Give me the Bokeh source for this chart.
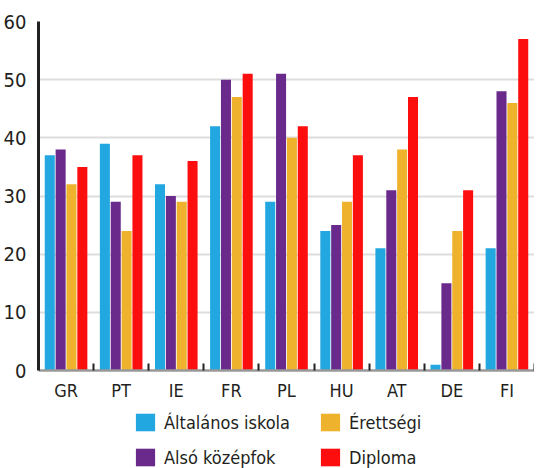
from bokeh.plotting import figure
from bokeh.layouts import column
from bokeh.models import (ColumnDataSource, FixedTicker, Legend, LegendItem, Range1d)
from bokeh.transform import dodge
from bokeh.embed import file_html
from bokeh.resources import INLINE

countries = ["GR", "PT", "IE", "FR", "PL", "HU", "AT", "DE", "FI"]
series_names = ["Általános iskola", "Alsó középfok", "Érettségi", "Diploma"]
altalanos = [37, 39, 32, 42, 29, 24, 21, 1, 21]
also = [38, 29, 30, 50, 51, 25, 31, 15, 48]
erettsegi = [32, 24, 29, 47, 40, 29, 38, 24, 46]
diploma = [35, 37, 36, 51, 42, 37, 47, 31, 57]
colors = ["#22A7E0", "#692A8C", "#EFB22D", "#FC0E0E"]
y_ticks = [0, 10, 20, 30, 40, 50, 60]

FONT = "DejaVu Sans Condensed, Roboto, sans-serif"
TXT = "#231f20"

idx = list(range(len(countries)))
src = ColumnDataSource(dict(xi=idx, a=altalanos, b=also, c=erettsegi, d=diploma))
cols = ["a", "b", "c", "d"]

p = figure(width=534, height=407, output_backend="svg", toolbar_location=None,
           x_range=Range1d(-0.5, len(countries) - 0.5), y_range=Range1d(0, 60),
           min_border_left=29, min_border_right=0, min_border_top=21, min_border_bottom=37)
p.outline_line_color = None
p.background_fill_color = "white"
p.border_fill_color = "white"

pitch = 0.197
bw = 0.182
for k, col in enumerate(cols):
    p.vbar(x=dodge("xi", (k - 1.5) * pitch), top=col, width=bw, bottom=0,
           source=src, fill_color=colors[k], line_color=None)

# grid
p.xgrid.grid_line_color = None
p.ygrid.grid_line_color = "#dddddd"
p.ygrid.grid_line_width = 2
p.ygrid.ticker = FixedTicker(ticks=y_ticks)

# y axis
ya = p.yaxis[0]
ya.ticker = FixedTicker(ticks=y_ticks)
ya.axis_line_color = "#222222"
ya.axis_line_width = 3
ya.major_tick_line_color = None
ya.minor_tick_line_color = None
ya.major_label_standoff = 6
ya.major_label_text_font = FONT
ya.major_label_text_font_size = "20px"
ya.major_label_text_color = TXT

# x axis
xa = p.xaxis[0]
xa.ticker = FixedTicker(ticks=idx, minor_ticks=[i + 0.5 for i in idx])
xa.major_label_overrides = {i: c for i, c in zip(idx, countries)}
xa.axis_line_color = "#999999"
xa.axis_line_width = 2.5
xa.major_tick_line_color = None
xa.minor_tick_in = 7
xa.minor_tick_out = 0
xa.minor_tick_line_color = "#222222"
xa.minor_tick_line_width = 2
xa.major_label_standoff = 3
xa.major_label_text_font = FONT
xa.major_label_text_font_size = "18px"
xa.major_label_text_color = TXT

# legend figure (its renderers use the same data, kept out of view)
q = figure(width=534, height=61, output_backend="svg", toolbar_location=None,
           x_axis_location=None, y_axis_location=None,
           x_range=Range1d(100, 101), y_range=Range1d(100, 101),
           min_border=0)
q.outline_line_color = None
q.xgrid.visible = False
q.ygrid.visible = False
legend_r = [q.vbar(x="xi", top=col, width=0.1, source=src, fill_color=c, line_color=None)
            for col, c in zip(cols, colors)]
items = [LegendItem(label=n, renderers=[r]) for n, r in zip(series_names, legend_r)]
legend = Legend(items=items, ncols=2, location=(95, 0),
                glyph_width=24, glyph_height=22, label_height=22, label_width=141,
                label_standoff=7, spacing=13, padding=0, margin=0,
                border_line_color=None, background_fill_alpha=0,
                label_text_font=FONT, label_text_font_size="18px", label_text_color=TXT)
q.add_layout(legend, "center")

open("out.html", "w").write(file_html(column(p, q, spacing=0), INLINE))
